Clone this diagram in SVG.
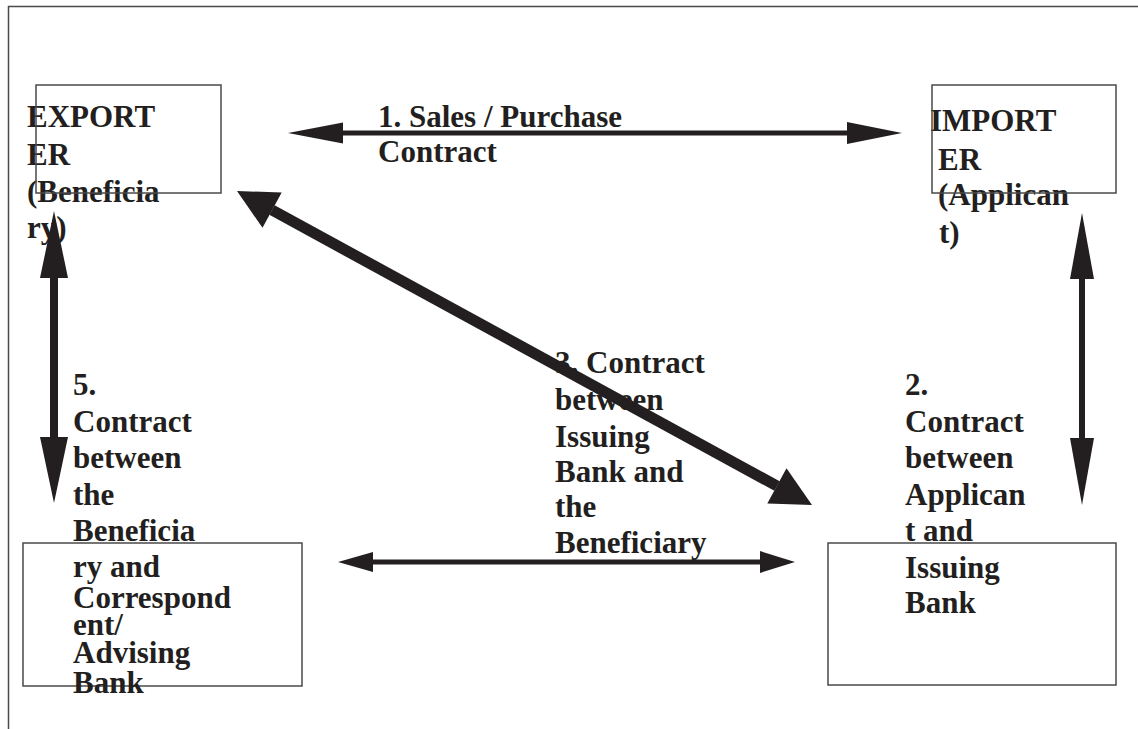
<svg xmlns="http://www.w3.org/2000/svg" width="1138" height="729" viewBox="0 0 1138 729">
<style>
.bg{fill:#ffffff}
.frame{fill:none;stroke:#4a4a4a;stroke-width:1.5}
.box{fill:none;stroke:#4a4a4a;stroke-width:1.5}
.t{font-weight:bold;font-size:31px;fill:#231f20}
.shaft{stroke:#231f20;fill:none}
.head{fill:#231f20;stroke:none}
</style>
<rect class="bg" x="0" y="0" width="1138" height="729"/>
<path class="frame" d="M8.5,729 V6.5 H1138"/>
<g font-family="Liberation Serif, Times New Roman, Times, serif">
<g id="exporter">
<text class="t" x="27" y="127">EXPORT</text>
<text class="t" x="27" y="165">ER</text>
<text class="t" x="27" y="202">(Beneficia</text>
<text class="t" x="27" y="238">ry)</text>
<rect class="box" x="36" y="85" width="185" height="108"/>
</g>
<g id="importer">
<text class="t" x="930" y="131">IMPORT</text>
<text class="t" x="938" y="170">ER</text>
<text class="t" x="938" y="205">(Applican</text>
<text class="t" x="939" y="243">t)</text>
<rect class="box" x="932" y="85" width="184" height="108"/>
</g>
<g id="advising-bank">
<rect class="box" x="23" y="543" width="279" height="143"/>
</g>
<g id="issuing-bank">
<rect class="box" x="828" y="543" width="288" height="142"/>
</g>
<g id="labels">
<text class="t" x="378" y="127">1. Sales / Purchase</text>
<text class="t" x="378" y="162">Contract</text>
<text class="t" x="905" y="395">2.</text>
<text class="t" x="905" y="432">Contract</text>
<text class="t" x="905" y="468">between</text>
<text class="t" x="905" y="505">Applican</text>
<text class="t" x="905" y="541">t and</text>
<text class="t" x="905" y="578">Issuing</text>
<text class="t" x="905" y="613">Bank</text>
<text class="t" x="555" y="373">3. Contract</text>
<text class="t" x="555" y="410">between</text>
<text class="t" x="555" y="447">Issuing</text>
<text class="t" x="555" y="482">Bank and</text>
<text class="t" x="555" y="517">the</text>
<text class="t" x="555" y="553">Beneficiary</text>
<text class="t" x="73" y="395">5.</text>
<text class="t" x="73" y="432">Contract</text>
<text class="t" x="73" y="468">between</text>
<text class="t" x="73" y="505">the</text>
<text class="t" x="73" y="541">Beneficia</text>
<text class="t" x="73" y="577">ry and</text>
<text class="t" x="73" y="608">Correspond</text>
<text class="t" x="73" y="635">ent/</text>
<text class="t" x="73" y="663">Advising</text>
<text class="t" x="73" y="693">Bank</text>
</g>
</g>
<g id="connectors">
<line class="shaft" x1="340" y1="133" x2="850" y2="133" stroke-width="5"/>
<polygon class="head" points="288,133 343,122.5 343,143.5"/>
<polygon class="head" points="902,133 847,122 847,144"/>
<line class="shaft" x1="272" y1="210" x2="777" y2="486" stroke-width="11"/>
<polygon class="head" points="237,191 262.5,227.8 281.7,192.6"/>
<polygon class="head" points="812,505 767.3,503.4 786.5,468.3"/>
<line class="shaft" x1="370" y1="562" x2="763" y2="562" stroke-width="5"/>
<polygon class="head" points="338,562 373,552 373,572"/>
<polygon class="head" points="795,562 760,551 760,573"/>
<line class="shaft" x1="1082" y1="276" x2="1082" y2="441" stroke-width="6"/>
<polygon class="head" points="1082,213 1070,279 1094,279"/>
<polygon class="head" points="1082,505 1070,438 1094,438"/>
<line class="shaft" x1="54" y1="275" x2="54" y2="440" stroke-width="8"/>
<polygon class="head" points="54,211 40,278 68,278"/>
<polygon class="head" points="54,503 40,437 68,437"/>
</g>
</svg>
